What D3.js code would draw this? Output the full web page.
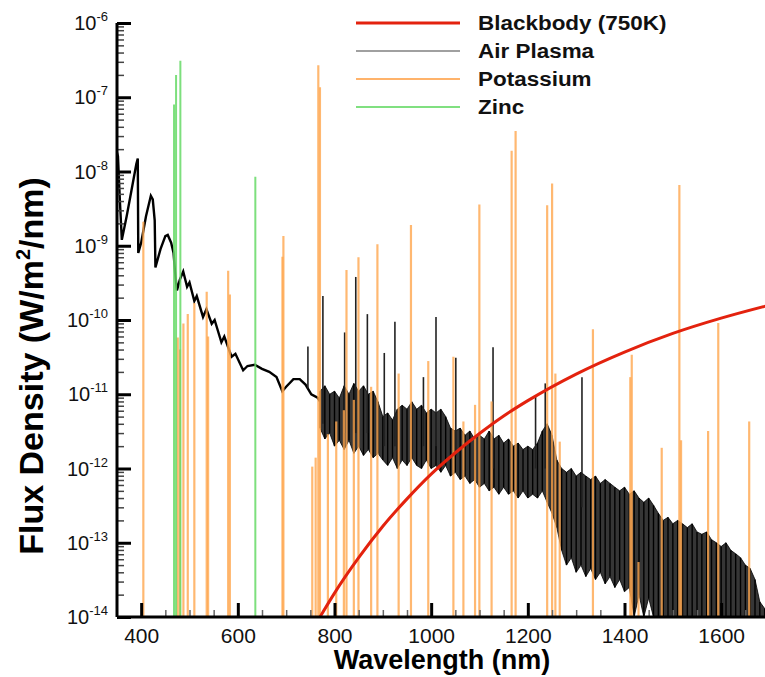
<!DOCTYPE html>
<html>
<head>
<meta charset="utf-8">
<script src="https://cdn.jsdelivr.net/npm/d3@7"></script>
<style>
  body { margin: 0; background: #fff; }
  svg { font-family: "Liberation Sans", Arial, Helvetica, sans-serif; }
</style>
</head>
<body>
<svg id="chart" width="765" height="677"></svg>
<script>
// ---- data ----
const xTicks = [400, 600, 800, 1000, 1200, 1400, 1600];
const yTicks = [1e-6, 1e-7, 1e-8, 1e-9, 1e-10, 1e-11, 1e-12, 1e-13, 1e-14];
const yTickExp = ["-6", "-7", "-8", "-9", "-10", "-11", "-12", "-13", "-14"];

const legendLabels = ["Blackbody (750K)", "Air Plasma", "Potassium", "Zinc"];
const legendColors = ["#e3220e", "#a0a0a0", "#ffb36b", "#80e080"];

// blackbody curve (750 K), wavelength nm / flux
const bbWave = [770, 800, 850, 900, 950, 1000, 1050, 1100, 1150, 1200, 1300, 1400, 1500, 1600, 1700];
const bbFlux = [1.0e-14, 2.1e-14, 6.3e-14, 1.67e-13, 3.9e-13, 8.4e-13, 1.63e-12, 2.96e-12, 5.1e-12, 8.2e-12,
                1.87e-11, 3.7e-11, 6.6e-11, 1.06e-10, 1.59e-10];

// air plasma, clean part of the spectrum (UV / visible)
const airLineWave = [350, 352, 356, 360, 370, 380, 390, 393, 394, 400, 410, 420, 424, 428, 429.5, 440, 450, 455,
                     462, 467, 470, 474, 480, 487, 495, 500, 510, 515, 528, 535, 546, 552, 566, 572, 587, 595,
                     611, 620, 635, 650, 665, 680, 692, 700, 715, 728, 740, 752, 765, 770];
const airLineFlux = [1.8e-8, 1.6e-8, 4.0e-9, 1.2e-9, 2.5e-9, 5.6e-9, 1.26e-8, 1.5e-8, 8e-10, 1.1e-9, 2.5e-9, 4.7e-9,
                     4.2e-9, 2.2e-9, 5.1e-10, 9e-10, 1.35e-9, 1.4e-9, 1.1e-9, 8e-10, 4.5e-10, 2.5e-10, 3.5e-10,
                     4.5e-10, 2.8e-10, 3.2e-10, 1.8e-10, 2.1e-10, 1.1e-10, 1.4e-10, 8.9e-11, 1.0e-10, 5e-11, 6e-11,
                     3.2e-11, 3.5e-11, 2.1e-11, 2.4e-11, 2.5e-11, 2.2e-11, 2.0e-11, 1.7e-11, 1.1e-11, 1.26e-11,
                     1.6e-11, 1.6e-11, 1.35e-11, 1.0e-11, 9e-12, 8e-12];

// air plasma, noisy near-IR part: upper and lower edge of the band
const bandWave = [770, 780, 790, 800, 810, 820, 830, 840, 850, 860, 870, 880, 890, 900, 910, 920, 930, 940, 950, 960,
                  970, 980, 990, 1000, 1010, 1020, 1030, 1040, 1050, 1060, 1070, 1080, 1090, 1100, 1110, 1120, 1130,
                  1140, 1150, 1160, 1170, 1180, 1190, 1200, 1210, 1220, 1230, 1240, 1250, 1260, 1270, 1280, 1290,
                  1300, 1310, 1320, 1330, 1340, 1350, 1360, 1370, 1380, 1390, 1400, 1410, 1420, 1430, 1440, 1450,
                  1460, 1470, 1480, 1490, 1500, 1510, 1520, 1530, 1540, 1550, 1560, 1570, 1580, 1590, 1600, 1610,
                  1620, 1630, 1640, 1650, 1660, 1670, 1680, 1690];
const bandHi = [1.1e-11, 1.3e-11, 1.0e-11, 1.1e-11, 8.9e-12, 1.3e-11, 1.0e-11, 1.4e-11, 1.1e-11, 1.3e-11,
                1.0e-11, 1.1e-11, 7.9e-12, 5.0e-12, 5.6e-12, 4.5e-12, 6.3e-12, 7.1e-12, 6.3e-12, 7.9e-12,
                6.3e-12, 7.1e-12, 5.6e-12, 6.3e-12, 5.6e-12, 6.3e-12, 5.0e-12, 3.5e-12, 3.2e-12, 3.5e-12,
                2.8e-12, 3.2e-12, 2.5e-12, 2.8e-12, 2.5e-12, 3.2e-12, 2.5e-12, 2.8e-12, 2.2e-12, 2.5e-12,
                2.0e-12, 2.2e-12, 1.8e-12, 2.0e-12, 1.8e-12, 2.2e-12, 3.2e-12, 4.0e-12, 2.8e-12, 1.3e-12,
                1.0e-12, 8.9e-13, 1.0e-12, 7.9e-13, 8.9e-13, 7.9e-13, 7.1e-13, 7.9e-13, 6.3e-13, 7.1e-13,
                6.3e-13, 5.6e-13, 5.0e-13, 5.6e-13, 4.5e-13, 5.0e-13, 4.0e-13, 3.5e-13, 4.0e-13, 3.2e-13,
                2.5e-13, 2.0e-13, 2.2e-13, 1.8e-13, 2.0e-13, 1.8e-13, 1.6e-13, 1.8e-13, 1.4e-13, 1.3e-13,
                1.4e-13, 1.1e-13, 1.0e-13, 8.9e-14, 1.0e-13, 7.9e-14, 7.1e-14, 6.3e-14, 5.0e-14, 4.5e-14,
                3.2e-14, 1.6e-14, 1.3e-14];
const bandLo = [3.5e-12, 2.5e-12, 3.0e-12, 2.0e-12, 2.4e-12, 1.8e-12, 2.4e-12, 1.6e-12, 2.0e-12, 1.5e-12,
                1.8e-12, 1.4e-12, 1.6e-12, 1.3e-12, 1.1e-12, 1.4e-12, 1.0e-12, 1.3e-12, 1.1e-12, 1.4e-12,
                1.1e-12, 1.0e-12, 1.3e-12, 1.0e-12, 1.1e-12, 8.9e-13, 1.1e-12, 7.9e-13, 8.9e-13, 7.1e-13,
                7.9e-13, 6.3e-13, 7.1e-13, 5.6e-13, 6.3e-13, 5.0e-13, 5.6e-13, 4.5e-13, 5.6e-13, 4.5e-13,
                5.0e-13, 4.0e-13, 5.0e-13, 4.0e-13, 4.5e-13, 4.0e-13, 5.0e-13, 3.5e-13, 2.5e-13, 1.6e-13,
                7.9e-14, 5.0e-14, 6.3e-14, 4.0e-14, 5.0e-14, 3.5e-14, 4.5e-14, 3.2e-14, 4.0e-14, 2.8e-14,
                3.5e-14, 2.5e-14, 3.2e-14, 2.2e-14, 2.5e-14, 1.0e-14, 2.0e-14, 1.0e-14, 1.8e-14, 1.0e-14,
                1.0e-14, 1.0e-14, 1.0e-14, 1.0e-14, 1.0e-14, 1.0e-14, 1.0e-14, 1.0e-14, 1.0e-14, 1.0e-14,
                1.0e-14, 1.0e-14, 1.0e-14, 1.0e-14, 1.0e-14, 1.0e-14, 1.0e-14, 1.0e-14, 1.0e-14, 1.0e-14,
                1.0e-14, 1.0e-14, 1.0e-14];

// air plasma emission spikes sticking out of the band
const spikeWave = [745, 776, 821, 844, 868, 903, 925, 984, 1010, 1051, 1128, 1216, 1236, 1312];
const spikePeak = [4.4e-11, 2.1e-10, 6.8e-11, 3.8e-10, 1.2e-10, 3.6e-11, 9.5e-11, 1.7e-11, 1.1e-10, 3.1e-11,
                   4.3e-11, 9.3e-12, 1.4e-11, 1.7e-11];
const spikeBase = [1.2e-11, 4e-12, 3e-12, 3e-12, 3e-12, 2e-12, 2e-12, 2e-12, 2e-12, 1.5e-12,
                   1e-12, 1e-12, 1e-12, 3e-13];

// potassium lines
const kWave = [404.5, 475.7, 480.4, 487.4, 496.4, 510, 535.6, 538.5, 580, 583.5, 692.3, 694.3, 754, 761, 766.5,
               769.9, 786.3, 803.6, 819.4, 824.8, 840, 849.6, 875.8, 888.8, 932.7, 958.2, 994, 1046, 1066.7,
               1090.8, 1099.7, 1125, 1166.5, 1174.7, 1240, 1250.2, 1257, 1266, 1334.7, 1412, 1415, 1429, 1477,
               1513.5, 1517, 1573, 1594, 1658];
const kPeak = [2.1e-9, 5.8e-11, 4e-11, 9e-11, 1.2e-10, 1.7e-10, 2.4e-10, 6e-11, 4.6e-10, 2.2e-10, 7.1e-10, 1.35e-9,
               1.06e-12, 1.4e-12, 2.7e-7, 1.36e-7, 2.9e-12, 4.3e-12, 6.1e-12, 4.7e-10, 8.4e-12, 7e-10, 1.26e-11,
               1.05e-9, 1.9e-11, 1.9e-9, 2.8e-11, 3.2e-11, 4.3e-12, 7.2e-12, 3.6e-9, 8e-12, 1.9e-8, 3.5e-8,
               3.5e-9, 6.9e-9, 1.9e-11, 2.3e-12, 7.5e-11, 1.7e-11, 3.4e-11, 5.5e-14, 1.9e-12, 6.6e-9, 2.4e-12,
               3.2e-12, 9.1e-11, 4.3e-12];

// zinc lines
const znWave = [468.0, 472.2, 481.1, 636.2];
const znPeak = [8.0e-8, 2.0e-7, 3.1e-7, 8.5e-9];

// ---- scales ----
const svg = d3.select("#chart");
const plotLeft = 117, plotRight = 765, plotTop = 23, plotBottom = 617;

const x = d3.scaleLinear().domain([350, 1700]).range([plotLeft, 769.5]);
const y = d3.scaleLog().domain([1e-14, 1e-6]).range([plotBottom, plotTop]);

svg.append("defs").append("clipPath")
    .attr("id", "plot-clip")
  .append("rect")
    .attr("x", plotLeft)
    .attr("y", plotTop)
    .attr("width", plotRight - plotLeft)
    .attr("height", plotBottom - plotTop);

const plot = svg.append("g").attr("clip-path", "url(#plot-clip)");

// ---- air plasma ----
const idx = d3.range(bandWave.length);

// dark body of the noisy band
plot.append("path")
    .datum(idx)
    .attr("fill", "#1a1a1a")
    .attr("fill-opacity", 0.88)
    .attr("stroke", "#000")
    .attr("stroke-width", 0.8)
    .attr("d", d3.area()
      .x(i => x(bandWave[i]))
      .y0(i => y(bandLo[i]))
      .y1(i => y(bandHi[i])));

// vertical strokes for the dotted texture
plot.append("g")
  .selectAll("line")
  .data(idx)
  .join("line")
    .attr("x1", i => x(bandWave[i]))
    .attr("x2", i => x(bandWave[i]))
    .attr("y1", i => y(bandLo[i]))
    .attr("y2", i => y(bandHi[i]))
    .attr("stroke", "#000")
    .attr("stroke-width", 1.4);

plot.append("path")
    .datum(d3.range(airLineWave.length))
    .attr("fill", "none")
    .attr("stroke", "#000")
    .attr("stroke-width", 2.4)
    .attr("d", d3.line()
      .x(i => x(airLineWave[i]))
      .y(i => y(airLineFlux[i])));

plot.append("g")
  .selectAll("line")
  .data(d3.range(spikeWave.length))
  .join("line")
    .attr("x1", i => x(spikeWave[i]))
    .attr("x2", i => x(spikeWave[i]))
    .attr("y1", i => y(spikeBase[i]))
    .attr("y2", i => y(spikePeak[i]))
    .attr("stroke", "#222")
    .attr("stroke-width", 1.6);

// ---- potassium ----
plot.append("g")
  .selectAll("line")
  .data(d3.range(kWave.length))
  .join("line")
    .attr("x1", i => x(kWave[i]))
    .attr("x2", i => x(kWave[i]))
    .attr("y1", y(1e-14))
    .attr("y2", i => y(kPeak[i]))
    .attr("stroke", "#ffa64d")
    .attr("stroke-opacity", 0.8)
    .attr("stroke-width", 2.2);

// ---- zinc ----
plot.append("g")
  .selectAll("line")
  .data(d3.range(znWave.length))
  .join("line")
    .attr("x1", i => x(znWave[i]))
    .attr("x2", i => x(znWave[i]))
    .attr("y1", y(1e-14))
    .attr("y2", i => y(znPeak[i]))
    .attr("stroke", "#66d966")
    .attr("stroke-opacity", 0.85)
    .attr("stroke-width", 2);

// ---- blackbody ----
plot.append("path")
    .datum(d3.range(bbWave.length))
    .attr("fill", "none")
    .attr("stroke", "#e3220e")
    .attr("stroke-width", 3)
    .attr("d", d3.line()
      .curve(d3.curveMonotoneX)
      .x(i => x(bbWave[i]))
      .y(i => y(bbFlux[i])));

// ---- axes ----
const xMinor = d3.range(450, 1700, 50).filter(v => !xTicks.includes(v));
const yMinor = [];
yTicks.slice(1).forEach(dec => {
  for (let m = 2; m <= 9; m++) yMinor.push(dec * m);
});

svg.append("g")
    .attr("transform", `translate(0,${plotBottom})`)
    .call(d3.axisBottom(x).tickValues(xMinor).tickSize(-7).tickSizeOuter(0).tickFormat(""))
    .call(g => g.select(".domain").remove())
    .call(g => g.selectAll(".tick line").attr("stroke", "#666").attr("stroke-width", 1.5));

svg.append("g")
    .attr("transform", `translate(${plotLeft},0)`)
    .call(d3.axisLeft(y).tickValues(yMinor).tickSize(-7).tickSizeOuter(0).tickFormat(""))
    .call(g => g.select(".domain").remove())
    .call(g => g.selectAll(".tick line").attr("stroke", "#444").attr("stroke-width", 1.5));

const xAxis = svg.append("g")
    .attr("transform", `translate(0,${plotBottom})`)
    .call(d3.axisBottom(x).tickValues(xTicks).tickSize(-14).tickSizeOuter(0)
      .tickPadding(11).tickFormat(d3.format("d")));
xAxis.select(".domain").attr("d", `M${plotLeft},0H${plotRight}`).attr("stroke-width", 3);
xAxis.selectAll(".tick line").attr("stroke-width", 3);
xAxis.selectAll(".tick text")
    .attr("font-size", 21)
    .attr("font-family", "Liberation Sans, Arial, sans-serif")
    .attr("fill", "#111");

const yAxis = svg.append("g")
    .attr("transform", `translate(${plotLeft},0)`)
    .call(d3.axisLeft(y).tickValues(yTicks).tickSize(-14).tickSizeOuter(0).tickFormat(""));
yAxis.select(".domain").attr("d", `M0,${plotTop}V${plotBottom}`).attr("stroke-width", 3);
yAxis.selectAll(".tick line").attr("stroke-width", 3);

svg.append("g")
  .selectAll("text")
  .data(d3.range(yTicks.length))
  .join("text")
    .attr("x", 108)
    .attr("y", i => y(yTicks[i]) + 7)
    .attr("text-anchor", "end")
    .attr("fill", "#111")
    .call(t => {
      t.append("tspan").attr("font-size", 20).text("10");
      t.append("tspan").attr("font-size", 13).attr("dy", -9).text(i => yTickExp[i]);
    });

// axis titles
svg.append("text")
    .attr("x", 442)
    .attr("y", 669)
    .attr("text-anchor", "middle")
    .attr("font-size", 27)
    .attr("font-weight", "bold")
    .text("Wavelength (nm)");

svg.append("text")
    .attr("transform", "translate(43,366) rotate(-90)")
    .attr("text-anchor", "middle")
    .attr("font-size", 34)
    .attr("font-weight", "bold")
    .call(t => {
      t.append("tspan").text("Flux Density (W/m");
      t.append("tspan").attr("font-size", 20).attr("dy", -13).text("2");
      t.append("tspan").attr("dy", 13).text("/nm)");
    });

// ---- legend ----
const legend = svg.append("g")
  .selectAll("g")
  .data(legendLabels)
  .join("g")
    .attr("transform", (d, i) => `translate(356,${23 + i * 28})`);

legend.append("line")
    .attr("x1", 0)
    .attr("x2", 104)
    .attr("stroke", (d, i) => legendColors[i])
    .attr("stroke-width", (d, i) => i === 0 ? 3 : 2);

legend.append("text")
    .attr("transform", "translate(122,7) scale(1.07,1)")
    .attr("font-size", 21)
    .attr("font-weight", "bold")
    .attr("fill", "#111")
    .text(d => d);
</script>
</body>
</html>
